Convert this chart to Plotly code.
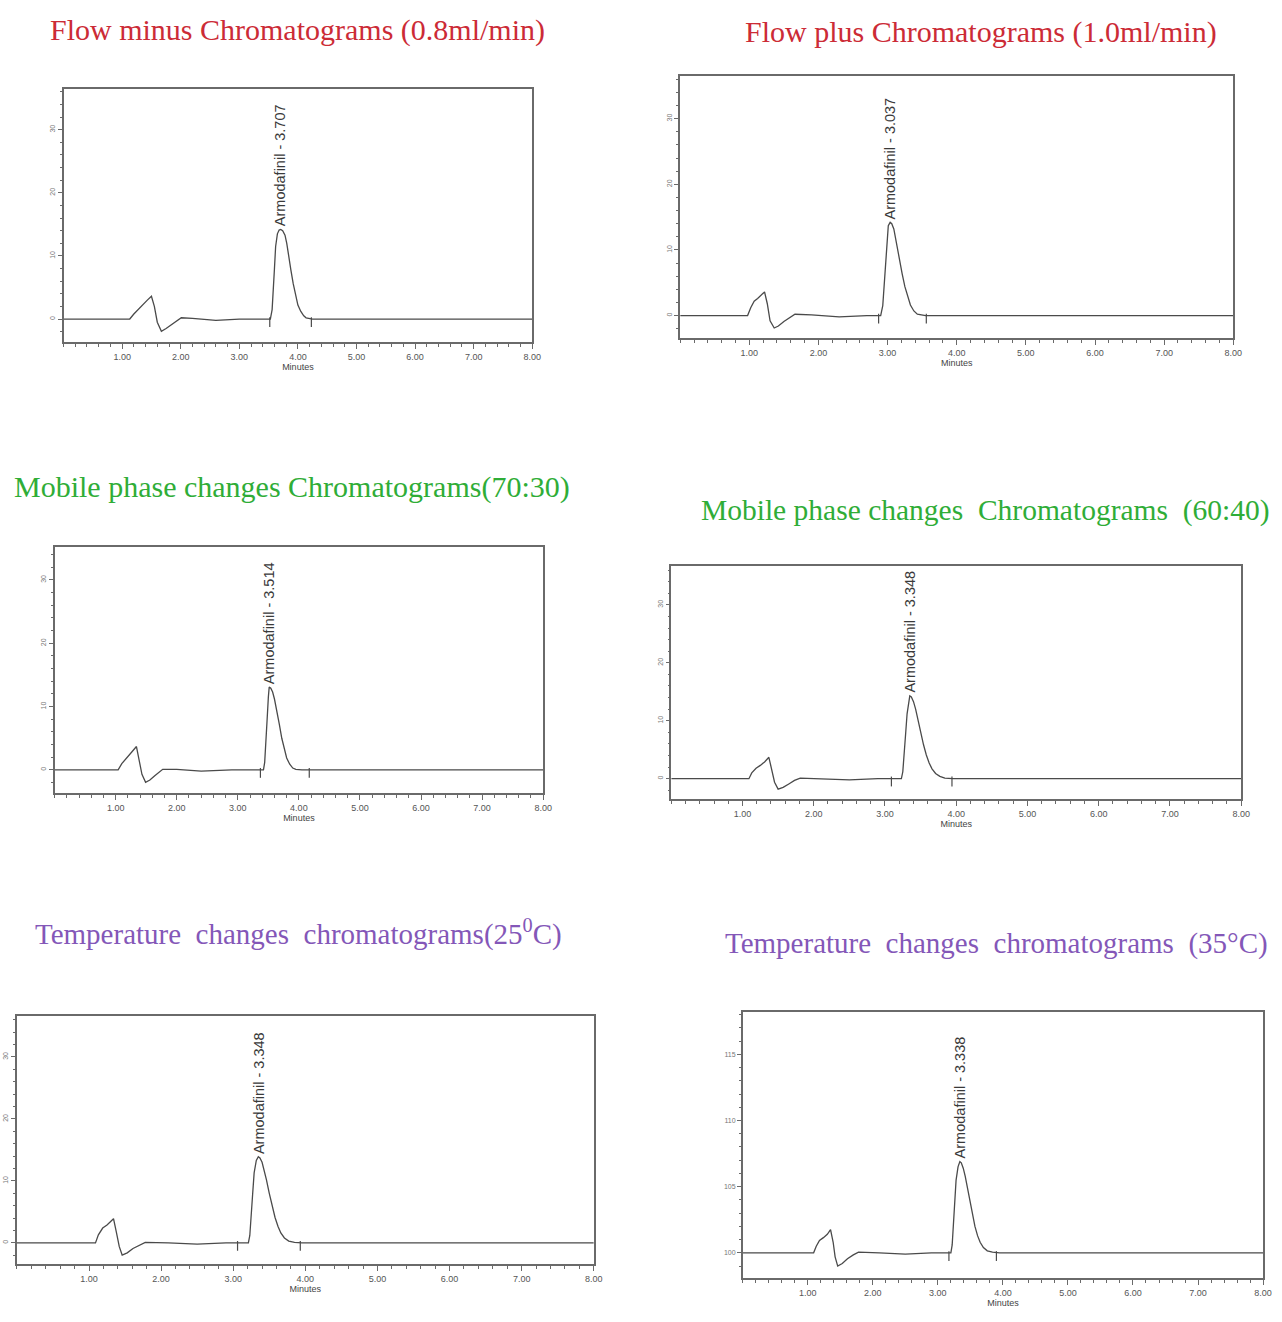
import plotly.graph_objects as go

# ---- chromatogram data (time in minutes, detector signal) ----
# Flow minus (0.8 ml/min)
t1 = [0.00, 1.13, 1.20, 1.27, 1.35, 1.43, 1.50, 1.55, 1.60, 1.67, 1.75, 1.85, 1.95, 2.01, 2.20, 2.60, 3.00, 3.53,
      3.56, 3.58, 3.60, 3.62, 3.65, 3.68, 3.707, 3.74, 3.78, 3.81, 3.84, 3.88, 3.92, 3.96, 4.00, 4.05, 4.10, 4.14, 4.25, 8.00]
s1 = [0.0, 0.0, 0.8, 1.5, 2.2, 3.0, 3.6, 2.0, -0.5, -1.95, -1.5, -0.9, -0.2, 0.2, 0.1, -0.2, 0.0, 0.0,
      1.5, 4.0, 8.0, 11.5, 13.5, 14.1, 14.2, 14.0, 13.3, 12.0, 10.0, 7.8, 5.6, 3.6, 2.2, 1.2, 0.5, 0.2, 0.0, 0.0]

# Flow plus (1.0 ml/min)
t2 = [0.00, 0.975, 1.02, 1.07, 1.12, 1.17, 1.22, 1.26, 1.30, 1.36, 1.42, 1.50, 1.58, 1.66, 1.90, 2.30, 2.70, 2.90,
      2.93, 2.95, 2.97, 2.99, 3.01, 3.037, 3.06, 3.09, 3.11, 3.14, 3.17, 3.21, 3.25, 3.29, 3.33, 3.38, 3.43, 3.55, 8.00]
s2 = [0.0, 0.0, 1.2, 2.2, 2.6, 3.1, 3.6, 1.8, -0.8, -1.9, -1.6, -0.9, -0.3, 0.2, 0.1, -0.2, 0.0, 0.0,
      1.5, 4.5, 8.5, 12.0, 13.7, 14.2, 14.0, 13.2, 12.0, 10.0, 8.3, 6.4, 4.4, 2.8, 1.6, 0.7, 0.2, 0.0, 0.0]

# Mobile phase 70:30
t3 = [0.00, 1.04, 1.10, 1.19, 1.26, 1.34, 1.38, 1.43, 1.49, 1.56, 1.64, 1.71, 1.77, 2.00, 2.40, 2.90, 3.42,
      3.44, 3.46, 3.48, 3.50, 3.514, 3.54, 3.57, 3.60, 3.64, 3.68, 3.72, 3.76, 3.80, 3.85, 3.90, 3.95, 4.05, 8.00]
s3 = [0.0, 0.0, 1.0, 2.1, 2.8, 3.7, 1.6, -0.7, -1.95, -1.6, -0.9, -0.3, 0.1, 0.1, -0.2, 0.0, 0.0,
      1.2, 4.0, 8.0, 11.5, 13.1, 12.9, 12.3, 11.2, 9.4, 7.2, 5.0, 3.2, 1.9, 0.9, 0.3, 0.1, 0.0, 0.0]

# Mobile phase 60:40
t4 = [0.00, 1.09, 1.13, 1.19, 1.25, 1.31, 1.37, 1.41, 1.45, 1.50, 1.57, 1.65, 1.73, 1.81, 2.10, 2.50, 2.90, 3.23,
      3.25, 3.27, 3.29, 3.31, 3.33, 3.348, 3.37, 3.40, 3.43, 3.46, 3.50, 3.54, 3.58, 3.62, 3.66, 3.71, 3.77, 3.84, 3.95, 8.00]
s4 = [0.0, 0.0, 1.0, 1.8, 2.3, 2.9, 3.7, 1.6, -0.6, -1.8, -1.5, -0.9, -0.3, 0.1, 0.0, -0.2, 0.0, 0.0,
      1.2, 3.9, 7.8, 11.2, 13.4, 14.3, 14.1, 13.3, 12.0, 10.3, 8.0, 5.9, 4.1, 2.7, 1.7, 0.9, 0.4, 0.1, 0.0, 0.0]

# Temperature 25 C
t5 = [0.00, 1.09, 1.13, 1.19, 1.25, 1.30, 1.34, 1.38, 1.42, 1.46, 1.53, 1.61, 1.70, 1.78, 2.10, 2.50, 2.90, 3.21,
      3.23, 3.25, 3.27, 3.29, 3.32, 3.348, 3.37, 3.40, 3.43, 3.46, 3.50, 3.54, 3.58, 3.62, 3.66, 3.71, 3.77, 3.85, 3.95, 8.00]
s5 = [0.0, 0.0, 1.3, 2.4, 2.9, 3.4, 3.9, 1.7, -0.6, -1.95, -1.6, -0.9, -0.3, 0.1, 0.0, -0.2, 0.0, 0.0,
      1.2, 4.0, 8.0, 11.3, 13.3, 13.9, 13.7, 13.0, 11.8, 10.2, 8.0, 5.9, 4.1, 2.7, 1.6, 0.8, 0.3, 0.1, 0.0, 0.0]

# Temperature 35 C
t6 = [0.00, 1.09, 1.13, 1.18, 1.24, 1.30, 1.35, 1.39, 1.42, 1.46, 1.53, 1.61, 1.70, 1.78, 2.10, 2.50, 2.90, 3.20,
      3.22, 3.24, 3.26, 3.28, 3.31, 3.338, 3.36, 3.39, 3.42, 3.45, 3.49, 3.53, 3.57, 3.61, 3.65, 3.70, 3.76, 3.84, 3.95, 8.00]
s6 = [100.0, 100.0, 100.5, 100.93, 101.15, 101.4, 101.76, 100.8, 99.7, 99.0, 99.2, 99.55, 99.85, 100.05, 100.0, 99.9, 100.0, 100.0,
      100.6, 102.0, 103.9, 105.5, 106.5, 106.9, 106.8, 106.4, 105.8, 105.0, 103.9, 102.9, 102.0, 101.3, 100.8, 100.4, 100.15, 100.05, 100.0, 100.0]

# retention times printed on the peaks
rt_labels = ["3.707", "3.037", "3.514", "3.348", "3.348", "3.338"]
apex_t = [3.707, 3.037, 3.514, 3.348, 3.348, 3.338]
apex_s = [14.2, 14.2, 13.1, 14.3, 13.9, 106.9]

# integration start / end marks
int_marks = [[3.52, 4.23], [2.87, 3.56], [3.37, 4.17], [3.09, 3.94], [3.06, 3.93], [3.17, 3.90]]

x_ticks = [1, 2, 3, 4, 5, 6, 7, 8]
x_tick_text = ["1.00", "2.00", "3.00", "4.00", "5.00", "6.00", "7.00", "8.00"]
y_ticks = [[0, 10, 20, 30]] * 5 + [[100, 105, 110, 115]]
y_ranges = [[-3.64, 36.45], [-3.42, 36.5], [-3.64, 35.2], [-3.5, 36.7], [-3.4, 36.6], [98.1, 118.2]]
y_minor = [2, 2, 2, 2, 2, 1]

titles = [
    "Flow minus Chromatograms (0.8ml/min)",
    "Flow plus Chromatograms (1.0ml/min)",
    "Mobile phase changes Chromatograms(70:30)",
    "Mobile phase changes\u00a0 Chromatograms\u00a0 (60:40)",
    "Temperature\u00a0 changes\u00a0 chromatograms(25<sup>0</sup>C)",
    "Temperature\u00a0 changes\u00a0 chromatograms\u00a0 (35°C)",
]
title_colors = ["#cc2b36", "#cc2b36", "#2fad37", "#2fad37", "#8457b8", "#8457b8"]
title_sizes = [30, 30, 30, 29.5, 29, 29]

# ---- page geometry (pixels) ----
W, H = 1282, 1322
boxes = [  # left, right, top, bottom
    (64, 536, 89, 342),
    (685, 1242, 76, 338),
    (55, 547, 547, 793),
    (676, 1250, 566, 799),
    (17, 598, 1016, 1264),
    (748, 1272, 1012, 1278),
]
title_pos = [(300, 30), (988, 32), (294, 487), (992, 510), (301, 932), (1004, 943)]

times = [t1, t2, t3, t4, t5, t6]
signals = [s1, s2, s3, s4, s5, s6]

LINE = "#4a4a4a"
AXIS = "#6a6a6a"

fig = go.Figure()
layout = dict(
    width=W, height=H,
    margin=dict(l=0, r=0, t=0, b=0),
    paper_bgcolor="white", plot_bgcolor="white",
    showlegend=False,
    annotations=[],
)

for i in range(6):
    n = "" if i == 0 else str(i + 1)
    xa, ya = "x" + n, "y" + n
    l, r, t, b = boxes[i]
    base = y_ticks[i][0]

    fig.add_trace(go.Scatter(
        x=times[i], y=signals[i], mode="lines",
        line=dict(color=LINE, width=1.3), xaxis=xa, yaxis=ya, hoverinfo="skip",
    ))
    fig.add_trace(go.Scatter(
        x=int_marks[i], y=[base - (y_ranges[i][1] - y_ranges[i][0]) * 0.012] * 2, mode="markers",
        marker=dict(symbol="line-ns-open", size=7, color=LINE, line=dict(color=LINE, width=1.2)),
        xaxis=xa, yaxis=ya, hoverinfo="skip",
    ))

    layout["xaxis" + n] = dict(
        domain=[l / W, r / W], anchor=ya, range=[0, 8],
        tickmode="array", tickvals=x_ticks, ticktext=x_tick_text,
        ticks="outside", ticklen=5, tickcolor=AXIS, tickwidth=1,
        minor=dict(tickmode="linear", tick0=0, dtick=0.2, ticks="outside", ticklen=3, tickcolor=AXIS),
        showline=True, linecolor=AXIS, linewidth=1.5, mirror=True,
        showgrid=False, zeroline=False,
        tickfont=dict(family="Liberation Sans", size=9, color="#555555"),
        title=dict(text="Minutes", font=dict(family="Liberation Sans", size=9, color="#444444"), standoff=3),
        fixedrange=True,
    )
    layout["yaxis" + n] = dict(
        domain=[1 - b / H, 1 - t / H], anchor=xa, range=y_ranges[i],
        tickmode="array", tickvals=y_ticks[i],
        ticks="outside", ticklen=4, tickcolor=AXIS, tickwidth=1,
        minor=dict(tickmode="linear", tick0=y_ticks[i][0], dtick=y_minor[i], ticks="outside", ticklen=2, tickcolor=AXIS),
        showline=True, linecolor=AXIS, linewidth=1.5, mirror=True,
        showgrid=False, zeroline=False,
        tickangle=0 if i == 5 else -90,
        tickfont=dict(family="Liberation Sans", size=7, color="#777777"),
        fixedrange=True,
    )

    layout["annotations"].append(dict(
        x=apex_t[i], y=apex_s[i], xref=xa, yref=ya,
        text="Armodafinil - " + rt_labels[i], showarrow=False,
        textangle=-90, xanchor="center", yanchor="bottom", yshift=1,
        font=dict(family="Liberation Sans", size=14.5, color="#3a3a3a"),
    ))

    cx, cy = title_pos[i]
    layout["annotations"].append(dict(
        x=cx / W, y=1 - cy / H, xref="paper", yref="paper",
        text=titles[i], showarrow=False, xanchor="center", yanchor="middle",
        font=dict(family="Liberation Serif", size=title_sizes[i], color=title_colors[i]),
    ))

fig.update_layout(**layout)
fig.write_html("out.html")
